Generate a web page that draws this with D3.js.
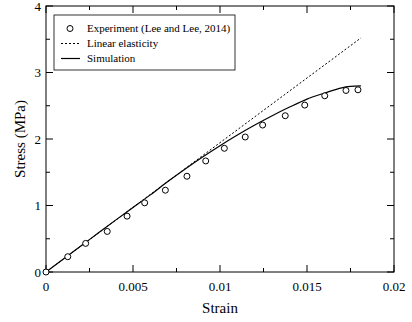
<!DOCTYPE html>
<html>
<head>
<meta charset="utf-8">
<script src="https://cdn.jsdelivr.net/npm/d3@7"></script>
<style>
  body { margin: 0; background: #fff; }
  text { font-family: "Liberation Serif", "DejaVu Serif", serif; fill: #000; }
</style>
</head>
<body>
<div id="chart"></div>
<script>
// measured stress-strain data
var expStrain = [0, 0.00125, 0.00228, 0.00352, 0.00466, 0.00567, 0.00686, 0.0081, 0.00918,
                 0.01025, 0.01145, 0.01245, 0.01375, 0.01487, 0.01602, 0.01724, 0.01793];
var expStress = [0, 0.23, 0.43, 0.61, 0.84, 1.04, 1.23, 1.44, 1.67,
                 1.86, 2.03, 2.21, 2.35, 2.51, 2.65, 2.73, 2.74];

var linStrain = [0, 0.0181];
var linStress = [0, 3.52];

var simStrain = [0, 0.001, 0.002, 0.003, 0.004, 0.005, 0.006, 0.007, 0.008, 0.009, 0.010,
                 0.011, 0.012, 0.013, 0.014, 0.015, 0.016, 0.017, 0.0175, 0.0181];
var simStress = [0, 0.195, 0.39, 0.585, 0.78, 0.97, 1.16, 1.36, 1.55, 1.73, 1.90,
                 2.06, 2.21, 2.35, 2.48, 2.60, 2.69, 2.77, 2.79, 2.80];

var xTicks = [0, 0.005, 0.01, 0.015, 0.02];
var xTickLabels = ["0", "0.005", "0.01", "0.015", "0.02"];
var yTicks = [0, 1, 2, 3, 4];
var legendLabels = ["Experiment (Lee and Lee, 2014)", "Linear elasticity", "Simulation"];

var width = 412, height = 322;
var margin = {top: 6, right: 18, bottom: 50, left: 46};
var w = width - margin.left - margin.right,
    h = height - margin.top - margin.bottom;

var svg = d3.select("#chart").append("svg")
    .attr("width", width)
    .attr("height", height);

var g = svg.append("g")
    .attr("transform", "translate(" + margin.left + "," + margin.top + ")");

var x = d3.scaleLinear().domain([0, 0.02]).range([0, w]);
var y = d3.scaleLinear().domain([0, 4]).range([h, 0]);

// frame
g.append("rect")
    .attr("width", w).attr("height", h)
    .attr("fill", "none").attr("stroke", "#000").attr("stroke-width", 1);

// inward ticks on all four sides, major + minor
var xMinor = d3.range(0.0025, 0.02, 0.005);
var yMinor = d3.range(0.5, 4, 1);

function ticksX(vals, len) {
  vals.forEach(function(v) {
    g.append("line").attr("x1", x(v)).attr("x2", x(v)).attr("y1", h).attr("y2", h - len)
      .attr("stroke", "#000");
    g.append("line").attr("x1", x(v)).attr("x2", x(v)).attr("y1", 0).attr("y2", len)
      .attr("stroke", "#000");
  });
}
function ticksY(vals, len) {
  vals.forEach(function(v) {
    g.append("line").attr("x1", 0).attr("x2", len).attr("y1", y(v)).attr("y2", y(v))
      .attr("stroke", "#000");
    g.append("line").attr("x1", w).attr("x2", w - len).attr("y1", y(v)).attr("y2", y(v))
      .attr("stroke", "#000");
  });
}
ticksX(xTicks, 7); ticksX(xMinor, 4);
ticksY(yTicks, 7); ticksY(yMinor, 4);

// tick labels
g.selectAll(".xlab").data(xTicks).enter().append("text")
    .attr("class", "xlab")
    .attr("x", function(d) { return x(d); })
    .attr("y", h + 19)
    .attr("text-anchor", "middle")
    .style("font-size", "13px")
    .text(function(d, i) { return xTickLabels[i]; });

g.selectAll(".ylab").data(yTicks).enter().append("text")
    .attr("class", "ylab")
    .attr("x", -5)
    .attr("y", function(d) { return y(d) + 4.5; })
    .attr("text-anchor", "end")
    .style("font-size", "13px")
    .text(function(d) { return d; });

// axis titles
svg.append("text")
    .attr("x", margin.left + w / 2)
    .attr("y", 313)
    .attr("text-anchor", "middle")
    .style("font-size", "15px")
    .text("Strain");

svg.append("text")
    .attr("transform", "translate(25," + (margin.top + h / 2) + ") rotate(-90)")
    .attr("text-anchor", "middle")
    .style("font-size", "15px")
    .text("Stress (MPa)");

var line = d3.line()
    .x(function(d) { return x(d[0]); })
    .y(function(d) { return y(d[1]); });

var linPts = d3.zip(linStrain, linStress);
var simPts = d3.zip(simStrain, simStress);
var expPts = d3.zip(expStrain, expStress);

g.append("path").datum(linPts)
    .attr("d", line)
    .attr("fill", "none").attr("stroke", "#000").attr("stroke-width", 1)
    .attr("stroke-dasharray", "2,2");

g.append("path").datum(simPts)
    .attr("d", d3.line().curve(d3.curveMonotoneX)
        .x(function(d) { return x(d[0]); })
        .y(function(d) { return y(d[1]); }))
    .attr("fill", "none").attr("stroke", "#000").attr("stroke-width", 1.2);

g.selectAll(".exp").data(expPts).enter().append("circle")
    .attr("class", "exp")
    .attr("cx", function(d) { return x(d[0]); })
    .attr("cy", function(d) { return y(d[1]); })
    .attr("r", 3)
    .attr("fill", "#fff").attr("stroke", "#000").attr("stroke-width", 1);

// legend
var lg = svg.append("g").attr("transform", "translate(54,15)");
lg.append("rect").attr("width", 181).attr("height", 55)
    .attr("fill", "#fff").attr("stroke", "#000").attr("stroke-width", 0.8);

lg.append("circle").attr("cx", 16).attr("cy", 13.5).attr("r", 3)
    .attr("fill", "#fff").attr("stroke", "#000");
lg.append("line").attr("x1", 7).attr("x2", 26).attr("y1", 28.5).attr("y2", 28.5)
    .attr("stroke", "#000").attr("stroke-dasharray", "2,2");
lg.append("line").attr("x1", 7).attr("x2", 26).attr("y1", 43.5).attr("y2", 43.5)
    .attr("stroke", "#000").attr("stroke-width", 1.2);

lg.selectAll(".leg").data(legendLabels).enter().append("text")
    .attr("class", "leg")
    .attr("x", 33)
    .attr("y", function(d, i) { return 17 + i * 15; })
    .style("font-size", "11px")
    .text(function(d) { return d; });
</script>
</body>
</html>
